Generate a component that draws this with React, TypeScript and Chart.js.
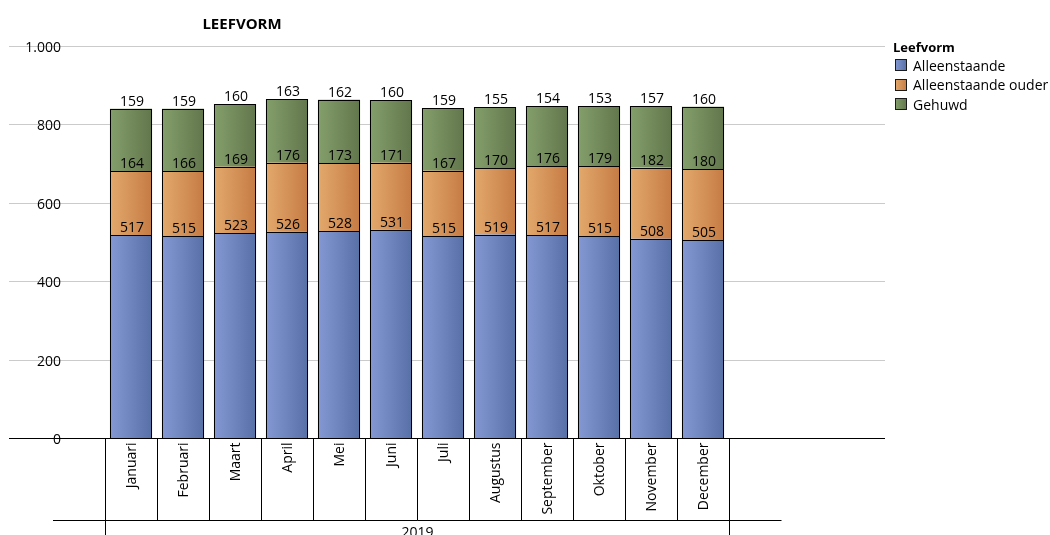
import React, { useEffect, useRef } from "react";
import { Chart, registerables } from "chart.js";

Chart.register(...registerables);

const TITLE = "LEEFVORM";
const LEGEND_TITLE = "Leefvorm";
const YEAR = "2019";
const MONTHS = [
  "Januari", "Februari", "Maart", "April", "Mei", "Juni",
  "Juli", "Augustus", "September", "Oktober", "November", "December",
];
const SERIES_NAMES = ["Alleenstaande", "Alleenstaande ouder", "Gehuwd"];
const ALLEENSTAANDE = [517, 515, 523, 526, 528, 531, 515, 519, 517, 515, 508, 505];
const ALLEENSTAANDE_OUDER = [164, 166, 169, 176, 173, 171, 167, 170, 176, 179, 182, 180];
const GEHUWD = [159, 159, 160, 163, 162, 160, 159, 155, 154, 153, 157, 160];
const Y_MAX = 1000;
const Y_STEP = 200;
const EMPTY_BEFORE = 1;
const EMPTY_AFTER = 3;

const COLORS: [string, string, string][] = [
  ["#8499d3", "#5770a6", "#6e84bd"],
  ["#e3a96d", "#c57b44", "#d8945b"],
  ["#849f6b", "#62764c", "#74895b"],
];
const FONT = '"Open Sans", "DejaVu Sans", sans-serif';
const BAR_PCT = 0.81;

const pad = (arr: (number | string)[], fill: any) => [
  ...Array(EMPTY_BEFORE).fill(fill),
  ...arr,
  ...Array(EMPTY_AFTER).fill(fill),
];

const fmt = (v: number) => {
  const s = String(Math.round(v));
  return s.replace(/\B(?=(\d{3})+(?!\d))/g, ".");
};

const gradientFill = (idx: number) => (ctx: any) => {
  const chart = ctx.chart;
  const [c1, c2, mid] = COLORS[idx];
  const xs = chart.scales && chart.scales.x;
  if (!xs || ctx.dataIndex == null || !chart.chartArea) return mid;
  const n = chart.data.labels.length;
  const half = ((xs.width / n) * BAR_PCT) / 2;
  const cx = xs.getPixelForValue(ctx.dataIndex);
  const g = chart.ctx.createLinearGradient(cx - half, 0, cx + half, 0);
  g.addColorStop(0, c1);
  g.addColorStop(1, c2);
  return g;
};

const decor = {
  id: "decor",
  beforeDatasetsDraw(chart: any) {
    const { ctx, chartArea, scales } = chart;
    const y = scales.y;
    ctx.save();
    ctx.lineWidth = 1;
    y.ticks.forEach((t: any) => {
      if (t.value === 0) return;
      const py = Math.round(y.getPixelForValue(t.value)) + 0.5;
      ctx.strokeStyle = "#cbcbcb";
      ctx.beginPath();
      ctx.moveTo(9, py);
      ctx.lineTo(chartArea.right, py);
      ctx.stroke();
    });
    ctx.restore();
  },
  afterDatasetsDraw(chart: any) {
    const { ctx, chartArea, scales } = chart;
    const x = scales.x;
    const y = scales.y;
    ctx.save();

    // crisp bar outlines
    ctx.strokeStyle = "#000";
    ctx.lineWidth = 1;
    chart.data.datasets.forEach((ds: any, di: number) => {
      const meta = chart.getDatasetMeta(di);
      meta.data.forEach((el: any, i: number) => {
        if (ds.data[i] == null) return;
        const l = Math.round(el.x - el.width / 2) + 0.5;
        const r = Math.round(el.x + el.width / 2) - 0.5;
        const t = Math.round(el.y) + 0.5;
        const b = Math.round(el.base) + 0.5;
        ctx.strokeRect(l, t, r - l, b - t);
      });
    });

    // value labels
    ctx.font = `14px ${FONT}`;
    ctx.fillStyle = "#000";
    ctx.textAlign = "center";
    ctx.textBaseline = "alphabetic";
    chart.data.datasets.forEach((ds: any, di: number) => {
      const meta = chart.getDatasetMeta(di);
      meta.data.forEach((el: any, i: number) => {
        const v = ds.data[i];
        if (v == null) return;
        ctx.fillText(String(v), el.x + 1, el.y - 3);
      });
    });

    // axis line at 0
    const y0 = Math.round(y.getPixelForValue(0)) + 0.5;
    ctx.strokeStyle = "#000";
    ctx.lineWidth = 1;
    ctx.beginPath();
    ctx.moveTo(9, y0);
    ctx.lineTo(chartArea.right, y0);
    ctx.stroke();

    // y tick labels
    ctx.font = `14px ${FONT}`;
    ctx.fillStyle = "#000";
    ctx.textAlign = "right";
    ctx.textBaseline = "middle";
    y.ticks.forEach((t: any) => {
      ctx.fillText(fmt(t.value), 61, y.getPixelForValue(t.value) + 2);
    });

    // category separators
    const bnd = (i: number) =>
      Math.round((x.getPixelForValue(i - 1) + x.getPixelForValue(i)) / 2) + 0.5;
    const first = EMPTY_BEFORE;
    const last = EMPTY_BEFORE + MONTHS.length;
    const rowBottom = 520.5;
    for (let i = first; i <= last; i++) {
      const bx = bnd(i);
      const end = i === first || i === last ? chart.height : rowBottom;
      ctx.beginPath();
      ctx.moveTo(bx, y0);
      ctx.lineTo(bx, end);
      ctx.stroke();
    }
    ctx.beginPath();
    ctx.moveTo(chartArea.left, rowBottom);
    ctx.lineTo(bnd(last + 1), rowBottom);
    ctx.stroke();

    // month labels rotated
    ctx.font = `14px ${FONT}`;
    ctx.fillStyle = "#000";
    ctx.textAlign = "right";
    ctx.textBaseline = "middle";
    MONTHS.forEach((m, i) => {
      const cx = x.getPixelForValue(i + EMPTY_BEFORE) + 1;
      ctx.save();
      ctx.translate(cx, y0 + 4);
      ctx.rotate(-Math.PI / 2);
      ctx.fillText(m, 0, 0);
      ctx.restore();
    });

    // year label
    ctx.textAlign = "center";
    ctx.textBaseline = "alphabetic";
    ctx.fillText(YEAR, (bnd(first) + bnd(last)) / 2, 537);

    // title
    ctx.font = `bold 15px ${FONT}`;
    ctx.textAlign = "center";
    ctx.fillText(TITLE, 242, 29);

    // legend
    ctx.font = `bold 13px ${FONT}`;
    ctx.textAlign = "left";
    ctx.textBaseline = "middle";
    ctx.fillText(LEGEND_TITLE, 893, 48);
    ctx.font = `14px ${FONT}`;
    SERIES_NAMES.forEach((name, i) => {
      const cy = 65 + i * 19.5;
      const by = Math.round(cy - 6) + 0.5;
      const g = ctx.createLinearGradient(895, 0, 907, 0);
      g.addColorStop(0, COLORS[i][0]);
      g.addColorStop(1, COLORS[i][1]);
      ctx.fillStyle = g;
      ctx.fillRect(895.5, by, 11, 11);
      ctx.strokeStyle = "#1a1a1a";
      ctx.strokeRect(895.5, by, 11, 11);
      ctx.fillStyle = "#000";
      ctx.fillText(name, 913, cy + 2);
    });

    ctx.restore();
  },
};

export default function App() {
  const ref = useRef<HTMLCanvasElement | null>(null);

  useEffect(() => {
    if (!ref.current) return;
    const series = [ALLEENSTAANDE, ALLEENSTAANDE_OUDER, GEHUWD];
    const chart = new Chart(ref.current, {
      type: "bar",
      data: {
        labels: pad(MONTHS, ""),
        datasets: series.map((vals, i) => ({
          label: SERIES_NAMES[i],
          data: pad(vals, null) as any,
          backgroundColor: gradientFill(i) as any,
          borderWidth: 0,
          categoryPercentage: 1,
          barPercentage: BAR_PCT,
        })),
      },
      options: {
        animation: false,
        responsive: false,
        layout: { padding: { left: 53, right: 165, top: 46, bottom: 97 } },
        plugins: {
          legend: { display: false },
          tooltip: { enabled: false },
          title: { display: false },
        },
        scales: {
          x: { stacked: true, display: false, offset: true },
          y: {
            stacked: true,
            display: false,
            min: 0,
            max: Y_MAX,
            ticks: { stepSize: Y_STEP },
          },
        },
      },
      plugins: [decor],
    });
    return () => chart.destroy();
  }, []);

  return (
    <div style={{ position: "absolute", left: 0, top: 0, width: 1050, height: 535, background: "#fff" }}>
      <canvas ref={ref} width={1050} height={535} style={{ display: "block" }} />
    </div>
  );
}
